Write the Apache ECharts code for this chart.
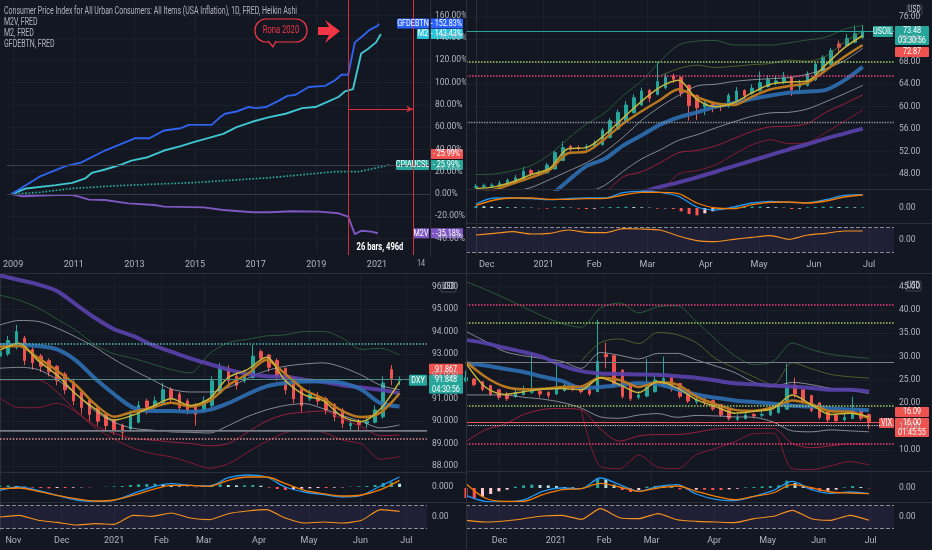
<!DOCTYPE html>
<html><head><meta charset="utf-8">
<script src="https://cdn.jsdelivr.net/npm/echarts@6/dist/echarts.min.js"></script>
<style>html,body{margin:0;padding:0;background:#131722}#c{width:932px;height:550px}</style>
</head><body><div id="c"></div><script>
const FONT = "'Liberation Sans Narrow',Roboto,'Liberation Sans',sans-serif";
const TXT = '#b2b5be';
const GRIDC = '#1b1f2b';
const SEP = '#2a2e39';
const SX = 0.76;

// ---------- Top-left: FRED % change ----------
const tlYearTicks = [2009,2011,2013,2015,2017,2019,2021];
const tlPctTicks = [-40,-20,0,20,40,60,80,100,120,140,160];
const gfdYear = [2008.95,2009.87,2010.73,2011.22,2012.03,2013.01,2013.5,2013.98,2014.53,2014.8,2015.55,2015.83,2015.99,2016.37,2016.75,2017.02,2017.34,2017.78,2018.05,2018.32,2018.75,2019.29,2019.62,2019.83,2020.05,2020.27,2020.54,2020.75,2021.03,2021.06];
const gfdPct = [0,15.5,25,28,39,50,50,57,59,62,62,69,72,74,78,77,78,84,88,89,96,97,102,107,107,136,142,147,151,152.83];
const m2Year = [2008.95,2009.43,2010.41,2010.95,2011.38,2011.6,2012.03,2012.52,2012.9,2013.44,2013.98,2014.53,2015.01,2015.28,2015.93,2016.37,2016.91,2017.45,2017.99,2018.53,2018.97,2019.4,2019.73,2019.94,2020.21,2020.48,2020.7,2020.97,2021.13];
const m2Pct = [0,5,8,10,14,19,22,26,30,33,39,43,47,49,54,60,65,69,72,77,78,83,87,92,94,126,130,136,143.43];
const cpiYear = [2008.95,2009.87,2010.95,2012.47,2015.07,2017.45,2019.62,2020.38,2020.92,2021.4];
const cpiPct = [0,1.5,5,7.5,10.4,14.6,20,20,23,25.99];
const m2vYear = [2008.95,2009.3,2010.4,2010.95,2011.17,2011.5,2012.03,2012.8,2013.66,2013.98,2015.28,2015.93,2016.91,2017.45,2018.21,2019.08,2019.73,2020.05,2020.27,2020.48,2020.81,2021.03];
const m2vPct = [0,-2,-1,-1,-2.4,-5,-5.4,-8.4,-9.9,-11.3,-12,-14.3,-16.4,-16.4,-15.5,-15.8,-17.3,-20.3,-36,-33,-33.7,-35.18];

// ---------- Top-right: USOIL ----------
const oilMonthTicks = [4.05,25.7,44.9,65.2,87.3,107.6,128.5,149.4];
const oilMonthNames = ['Dec','2021','Feb','Mar','Apr','May','Jun','Jul'];
const oilPriceTicks = [48,52,56,60,64,68,72,76];
const oilCandles = [
[45.6,45.8,45.4,46.2],[45.7,45.9,45.5,46.3],[45.8,46.0,45.6,46.4],[45.9,46.3,45.7,46.8],[46.1,46.9,45.9,47.2],
[46.5,47.3,46.3,47.8],[46.9,48.5,46.8,49.3],[48.6,48.1,47.6,48.9],[48.1,48.2,47.7,48.7],[48.2,49.6,48.1,50.0],
[48.9,51.8,48.8,52.2],[50.4,52.7,50.3,53.8],[52.9,52.5,52.0,53.2],[52.7,52.6,52.2,53.1],[52.6,52.9,52.3,53.3],
[52.8,53.5,52.6,54.0],[53.2,55.8,53.1,56.2],[54.5,57.5,54.3,58.0],[56.0,59.0,55.9,59.5],[57.5,60.3,57.3,61.0],
[58.9,61.6,58.8,62.2],[60.3,62.8,60.1,63.4],[62.9,61.5,60.8,63.2],[62.2,64.5,62.0,68.0],[63.4,65.3,63.1,66.0],
[65.5,64.9,64.2,65.9],[65.2,62.5,61.8,65.4],[63.8,60.2,57.5,64.0],[62.0,59.8,57.6,62.2],[60.0,60.6,58.5,61.2],
[60.6,60.2,59.0,61.0],[60.1,60.0,59.2,60.6],[60.1,62.0,59.8,62.4],[61.0,62.8,60.8,63.5],[62.9,62.0,61.3,63.1],
[62.4,63.3,62.1,64.0],[62.9,64.3,62.7,66.3],[63.6,64.8,63.4,65.6],[64.2,64.6,63.8,65.5],[64.4,65.1,64.0,66.2],
[65.2,63.0,61.9,65.4],[63.5,64.0,62.4,64.8],[63.8,65.8,63.6,66.3],[64.8,67.6,64.6,68.0],[66.2,68.8,66.0,69.2],
[67.5,70.0,67.3,70.5],[71.2,70.6,69.8,71.8],[70.9,72.2,70.7,73.0],[71.5,73.0,71.3,74.5],[72.3,73.5,72.1,74.6]];
const oilEmaFast = [45.4,45.7,46.6,47.9,49.0,52.5,52.7,55.0,58.0,61.0,63.5,64.7,61.3,60.0,60.7,62.5,64.0,64.4,64.6,67.5,70.5,72.7];
const oilEmaSlow = [44.8,45.2,46.3,47.4,48.7,51.7,52.0,54.3,57.0,59.2,61.2,63.1,61.7,60.6,60.3,61.8,63.1,63.7,64.3,66.5,68.9,71.0];
const oilSma50 = [null,null,null,null,44.0,46.8,49.4,50.7,53.1,54.9,56.8,58.1,59.0,60.0,60.6,61.4,62.0,62.5,62.7,63.0,64.7,67.1];
const oilSma200 = [null,null,null,null,null,null,null,null,null,44.8,45.7,46.5,47.4,48.4,49.4,50.4,51.4,52.4,53.3,54.3,55.2,56.1];
const oilUpW = [null,null,44.8,45.6,47.0,48.5,50.0,52.0,54.6,57.6,60.0,62.0,63.7,64.0,64.5,64.8,65.0,65.2,65.8,66.8,68.2,70.4];
const oilLoW = [null,null,null,null,null,null,44.6,46.0,48.5,50.7,52.3,54.0,55.0,56.2,57.3,58.3,58.9,59.0,59.6,60.9,62.3,63.8];
const oilRedA = [null,null,null,null,null,null,null,44.5,47.5,48.4,50.0,51.8,52.2,53.0,54.3,55.6,56.4,56.5,57.0,59.0,60.5,62.1];
const oilRedB = [null,null,null,null,null,null,null,null,null,null,44.5,48.0,48.6,49.6,51.5,53.2,54.1,53.4,53.6,55.4,57.4,59.4];
const oilGreen = [47.9,48.0,48.6,49.5,51.5,54.3,56.9,58.9,62.0,64.6,68.1,71.0,71.7,71.8,71.0,71.0,71.0,71.4,71.9,72.4,73.8,74.5];
const oilGreen2 = [null,null,null,null,null,null,null,null,null,null,65.5,66.8,67.4,67.0,67.2,67.5,67.7,68.3,68.1,69.0,71.5,73.5];
const oilMacd = [1.2,3.0,3.0,2.8,2.5,2.8,3.0,3.0,4.6,5.0,4.7,3.5,0.3,-0.6,0.3,1.5,2.0,1.7,1.6,2.5,3.8,4.0];
const oilSignal = [0.8,2.4,3.0,3.0,2.6,2.6,2.8,2.9,3.9,4.7,4.7,4.3,1.5,0.0,-0.2,1.0,1.7,1.8,1.5,2.1,3.3,3.9];
const oilHist = [0.6,0.5,0.4,0.3,0.3,0.2,0.2,0.1,-0.1,-0.2,0.2,0.3,0.1,-0.2,-0.3,-0.2,0.2,0.3,0.3,0.4,0.3,0.2,0.1,-0.2,-0.1,-0.3,-1.0,-1.8,-2.2,-1.6,-1.0,-0.6,-0.3,0.2,0.3,0.4,0.4,0.3,0.2,0.1,-0.3,-0.2,0.2,0.3,0.4,0.4,0.3,0.3,0.2,0.2];
const oilRsi = [1.5,2.0,2.5,1.8,2.0,3.0,2.3,2.2,3.4,3.3,3.0,1.2,-0.2,-0.5,0.2,0.8,1.3,0.2,1.5,2.0,2.7,2.7];

// ---------- Bottom-left: DXY ----------
const dxyMonthTicks = [4.9,22.7,42.0,59.4,75.0,95.3,113.7,132.6,149.5];
const dxyMonthNames = ['Nov','Dec','2021','Feb','Mar','Apr','May','Jun','Jul'];
const dxyPriceTicks = [88,89,90,91,92,93,94,95,96];
const dxyCandles = [
[92.9,93.1,92.7,93.4],[93.0,93.6,92.9,93.8],[93.3,94.0,93.2,94.3],[93.7,92.7,92.5,93.8],[93.2,92.6,92.3,93.3],
[92.9,92.45,92.2,93.0],[92.7,92.2,92.0,92.8],[92.45,91.8,91.6,92.5],[92.1,91.4,91.2,92.2],[91.75,90.9,90.7,91.9],
[91.3,90.6,90.3,91.4],[90.95,90.3,90.0,91.0],[90.6,90.0,89.8,90.7],[90.3,89.8,89.6,90.4],[90.05,89.6,89.4,90.1],
[89.8,89.5,89.2,89.9],[89.65,90.3,89.6,90.5],[89.95,90.7,89.9,90.9],[90.9,90.6,90.3,91.0],[90.7,90.9,90.5,91.1],
[90.8,91.4,90.7,91.7],[91.4,91.0,90.8,91.5],[91.2,90.6,90.4,91.3],[90.9,90.5,90.3,91.0],[90.7,90.3,89.8,90.8],
[90.5,90.9,90.4,91.1],[90.7,91.8,90.6,92.0],[91.25,92.4,91.2,92.6],[92.3,91.8,91.5,92.5],[92.0,91.6,91.4,92.2],
[91.8,92.1,91.7,92.3],[91.95,92.9,91.9,93.4],[93.1,92.8,92.6,93.2],[92.95,92.4,92.2,93.0],[92.7,92.0,91.8,92.8],
[92.35,91.4,91.2,92.4],[91.9,91.0,90.8,92.0],[91.45,90.7,90.4,91.5],[91.0,91.2,90.9,91.4],[91.1,90.9,90.7,91.3],
[91.0,90.5,90.3,91.1],[90.75,90.2,90.0,90.8],[90.5,89.9,89.7,90.6],[89.8,89.9,89.6,90.1],[89.95,89.85,89.6,90.1],
[89.9,90.0,89.7,90.2],[89.95,90.5,89.9,90.7],[90.2,91.7,90.1,92.0],[92.3,91.9,91.6,92.5],[91.8,91.85,91.6,92.0]];
const dxySma200 = [96.5,96.3,96.1,95.8,95.2,94.6,94.1,93.8,93.4,93.1,92.8,92.55,92.3,92.1,92.0,91.98,91.85,91.75,91.6,91.5,91.4,91.24];
const dxySma50 = [93.4,93.4,93.35,93.2,92.7,91.9,91.2,90.6,90.45,90.45,90.42,90.5,90.8,91.2,91.55,91.7,91.77,91.78,91.7,91.4,90.8,90.65];
const dxyEmaFast = [93.17,93.48,92.7,92.05,91.2,90.55,90.05,90.27,90.65,91.0,90.7,91.0,91.95,92.3,92.85,91.8,91.17,90.9,90.2,89.98,90.55,91.76];
const dxyEmaSlow = [93.32,93.35,92.82,92.25,91.6,90.75,90.2,90.42,90.6,90.82,90.65,90.9,91.6,92.1,92.73,92.1,91.4,91.0,90.45,90.18,90.38,91.24];
const dxyUpW = [94.29,94.49,94.45,94.15,93.75,93.3,92.75,92.28,91.85,91.43,91.3,91.3,91.5,91.9,92.25,92.45,92.55,92.6,92.4,92.05,91.6,91.4];
const dxyLoW = [92.36,92.4,92.3,91.85,91.2,90.45,89.95,89.68,89.6,89.52,89.5,89.47,89.8,90.2,90.5,90.7,90.78,90.55,90.25,89.98,89.7,89.83];
const dxyRedA = [91.84,91.84,91.84,91.3,90.45,89.8,89.45,89.23,89.15,89.07,89.0,88.9,89.0,89.5,90.0,90.3,90.4,90.45,90.1,89.75,89.35,89.38];
const dxyRedB = [91.02,90.6,90.6,90.8,90.4,89.7,89.2,88.79,88.55,88.4,88.15,87.9,88.1,88.6,89.09,89.48,89.6,89.5,89.15,88.98,88.3,88.42];
const dxyGreen = [95.62,95.4,95.05,94.55,94.05,93.4,93.0,92.8,92.55,92.3,92.15,93.0,93.5,93.65,93.8,93.85,94.0,94.0,93.7,93.2,93.25,92.95];
const dxyMacd = [-1.0,0.0,-1.0,-2.5,-3.9,-4.3,-4.0,-2.0,0.0,1.0,0.5,0.3,2.8,3.6,3.0,0.0,-1.5,-2.3,-3.0,-2.5,0.3,3.0];
const dxySignal = [-0.5,-0.3,-1.3,-2.5,-3.5,-4.2,-3.9,-2.5,-0.8,0.5,0.5,0.2,2.0,3.0,3.0,1.0,-1.0,-2.0,-2.7,-2.4,-0.8,2.0];
const dxyHist = [0.4,0.5,0.3,0.1,-0.2,-0.3,-0.4,-0.3,-0.3,-0.2,-0.1,-0.1,0.0,0.1,0.2,0.3,0.6,0.8,0.9,1.0,0.8,0.4,0.2,0.1,-0.1,0.4,0.7,0.8,0.6,0.5,0.5,0.6,0.4,-0.2,-0.6,-0.9,-0.8,-0.5,-0.4,-0.3,-0.3,-0.2,-0.1,0.1,0.2,0.3,0.6,1.2,1.4,1.0];
const dxyRsi = [0.0,0.5,-1.0,-1.6,-2.4,-2.0,-2.2,0.5,0.2,1.2,-0.3,-0.8,1.0,1.8,2.2,-0.3,-1.8,-1.5,-1.8,-1.0,2.2,1.7];

// ---------- Bottom-right: VIX ----------
const vixMonthTicks = [12.2,32.8,50.4,67.7,90.5,110.0,128.6,147.6];
const vixMonthNames = ['Dec','2021','Feb','Mar','Apr','May','Jun','Jul'];
const vixPriceTicks = [10,15,20,25,30,35,40,45];
const vixCandles = [
[24.8,25.5,24.5,27.0],[25.2,24.0,23.6,25.4],[24.6,23.0,22.6,24.8],[23.8,22.0,21.6,24.0],[22.9,21.3,20.8,23.1],
[21.9,21.0,20.5,22.4],[21.45,22.3,21.2,23.2],[21.9,22.9,21.7,23.8],[22.4,22.5,22.0,31.0],[22.6,22.0,21.3,23.0],
[22.3,21.7,21.0,22.6],[22.0,23.5,21.8,28.6],[22.75,23.8,22.5,24.5],[23.9,23.0,22.6,24.1],[23.45,22.5,22.1,23.6],
[23.0,22.0,21.6,23.1],[22.5,29.0,22.4,37.9],[30.5,30.0,27.5,33.0],[30.2,24.0,23.4,30.4],[27.1,21.5,21.0,27.3],
[24.3,21.0,20.5,24.5],[21.3,21.8,20.8,22.6],[21.55,23.5,21.3,29.6],[22.5,25.0,22.3,26.0],[23.75,25.3,23.5,30.0],
[25.5,23.0,22.5,25.7],[24.25,21.5,21.0,24.4],[22.9,20.5,20.1,23.0],[20.3,20.8,19.8,21.5],[20.9,20.3,19.6,21.2],
[20.6,18.8,18.4,20.8],[19.7,17.5,17.2,19.8],[18.6,16.8,16.3,18.7],[16.6,16.9,16.2,17.6],[16.75,17.5,16.5,18.1],
[17.6,17.3,16.8,18.0],[17.45,17.6,17.0,18.3],[17.5,18.5,17.3,19.0],[18.0,19.5,17.8,20.2],[18.75,23.5,18.6,28.5],
[23.8,22.0,21.2,25.5],[22.9,20.5,19.9,23.0],[21.7,18.5,18.1,21.8],[20.1,17.0,16.6,20.2],[18.5,16.5,16.0,18.6],
[17.5,16.3,15.8,17.6],[16.5,17.0,16.1,17.8],[16.75,18.3,16.6,21.4],[18.5,16.8,16.3,18.7],[17.6,16.0,14.5,17.8]];
const vixSma200 = [33.6,32.9,31.9,31.0,29.9,28.1,26.9,26.4,26.3,26.2,26.1,25.8,25.5,24.9,24.3,24.1,23.8,23.6,23.3,22.9,22.9,22.5];
const vixSma50 = [28.6,28.1,27.4,26.7,25.7,24.8,23.3,23.5,23.9,24.3,24.1,23.0,21.9,21.2,20.6,20.3,19.9,19.5,19.3,18.9,18.7,18.5];
const vixEmaFast = [28.6,23.5,21.9,22.5,23.0,23.2,22.9,25.5,24.0,22.3,24.7,23.3,20.8,19.3,17.9,18.3,18.9,21.8,19.7,17.6,17.9,17.1];
const vixEmaSlow = [28.9,25.7,23.6,23.0,23.1,23.5,23.6,25.5,25.0,23.5,24.5,24.0,21.5,19.8,18.6,18.4,19.2,20.6,19.8,18.3,18.2,16.8];
const vixUpW = [35.4,33.3,31.1,30.2,29.6,29.0,27.5,30.9,30.3,29.5,30.7,30.7,29.3,28.0,26.6,24.5,23.6,24.5,24.0,23.2,22.8,22.1];
const vixLoW = [21.8,21.8,21.8,21.3,20.9,20.2,19.0,17.1,16.8,17.5,17.8,17.0,17.4,17.3,17.1,17.0,16.0,14.1,13.9,14.3,14.1,13.9];
const vixRedA = [11.8,14.3,15.5,17.6,18.7,18.9,18.6,14.5,11.9,13.0,13.3,13.3,13.8,14.5,14.6,14.6,14.6,11.4,10.5,10.9,11.3,11.3];
const vixRedB = [null,null,null,null,null,null,18.8,6.5,6.0,8.9,6.3,6.0,9.0,10.3,11.8,13.5,13.6,6.0,5.8,6.6,7.5,6.8];
const vixGreen = [46.1,44.4,42.6,40.6,38.7,37.1,36.3,40.4,41.5,39.4,40.7,40.9,37.5,33.7,30.2,28.3,29.0,32.9,31.5,30.5,30.0,29.6];
const vixGreen2 = [null,null,null,null,null,null,29.0,33.0,33.8,32.8,35.2,34.7,33.0,29.6,27.6,25.7,24.0,28.7,27.4,26.2,25.7,25.4];
const vixMacd = [-2.2,-4.0,-4.2,-3.6,-1.0,0.0,-0.2,3.0,1.0,-1.0,0.5,1.0,-1.8,-3.4,-3.8,-2.5,-0.8,2.0,-0.5,-1.6,-1.2,-1.7];
const vixSignal = [1.3,-3.0,-4.0,-4.0,-2.0,-0.5,-0.2,1.4,0.3,-1.0,0.0,0.6,-1.0,-2.5,-3.5,-2.5,-1.5,1.0,0.1,-1.2,-1.5,-1.7];
const vixHist = [-3.0,-3.2,-2.6,-1.8,-1.0,-0.5,0.4,0.8,1.0,0.9,0.8,0.6,0.3,0.2,0.0,0.1,3.0,2.6,1.0,-0.6,-1.2,-0.6,0.4,0.6,0.5,0.2,-0.4,-0.6,-0.5,-0.5,-0.6,-0.6,-0.4,-0.2,0.2,0.3,0.5,0.6,0.8,2.2,1.5,0.5,-0.6,-0.9,-0.8,-0.5,0.2,0.6,0.3,-0.1];
const vixRsi = [-1.0,-1.5,-1.2,-0.5,0.3,0.5,-0.7,2.5,-0.2,-0.5,1.0,-0.8,-1.3,-1.5,-1.7,-0.5,0.2,2.0,-0.5,-1.0,0.5,-1.0];

// ---------- helpers ----------
const CANDLE_STEP = 3, LINE_STEP = 7;
const pairs = (arr, step) => arr.map((v, i) => v == null ? null : [i * step, v]).filter(Boolean);
const zip = (xs, ys) => xs.map((x, i) => [x, ys[i]]);

function ln(g, data, color, width, z, extra) {
  return Object.assign({type:'line', xAxisIndex:g, yAxisIndex:g, data, symbol:'none', smooth:0.3,
    silent:true, z:z||4, lineStyle:{color, width}}, extra||{});
}
function histItems(vals) {
  return vals.map((v, k) => {
    const p = k > 0 ? vals[k-1] : v;
    const c = v >= 0 ? (v >= p ? '#26a69a' : '#b2dfdb') : (v <= p ? '#ff5252' : '#ffcdd2');
    return {value:[k*CANDLE_STEP, v], itemStyle:{color:c}};
  });
}
function hl(v, color, type, width) {
  return {yAxis:v, lineStyle:{color, type:type||'dotted', width:width||1.2}};
}

function panelSeries(g, d) {
  const s = [];
  const L = (arr, c, w, op) => { if (arr) s.push(ln(g, pairs(arr, LINE_STEP), c, w, 4, {lineStyle:{color:c, width:w, opacity:op==null?1:op}})); };
  s.push({type:'candlestick', xAxisIndex:g, yAxisIndex:g, barWidth:3, z:3, silent:true,
    data: d.candles.map((c, k) => [k*CANDLE_STEP, c[0], c[1], c[2], c[3]]),
    itemStyle:{color:'#26a69a', color0:'#ef5350', borderColor:'#26a69a', borderColor0:'#ef5350', borderWidth:1},
    markLine:{symbol:['none','none'], silent:true, label:{show:false}, data:d.hlines}});
  L(d.green, '#2c5f3a', 1, 0.9); L(d.green2, '#5a7030', 1, 0.8);
  L(d.redA, '#a8203d', 1, 0.9); L(d.redB, '#8f1c35', 1, 0.9);
  L(d.upW, '#c2c5cc', 1, 0.65); L(d.loW, '#c2c5cc', 1, 0.65);
  L(d.sma200, '#5b42ad', 4, 0.9); L(d.sma50, '#2f6fb3', 4, 0.9);
  L(d.emaSlow, '#b9781f', 2.5, 1); L(d.emaFast, '#c9b53b', 1.5, 1);
  s.push({type:'bar', xAxisIndex:g+1, yAxisIndex:g+1, barWidth:3, silent:true, data:histItems(d.hist)});
  s.push(ln(g+1, pairs(d.macd, LINE_STEP), '#2196f3', 1.3, 5));
  s.push(ln(g+1, pairs(d.signal, LINE_STEP), '#f57c00', 1.3, 5));
  s.push(ln(g+2, pairs(d.rsi, LINE_STEP), '#f5911e', 1.1, 5, {
    smooth:0.2,
    markArea:{silent:true, itemStyle:{color:'rgba(126,87,194,0.12)'}, data:[[{yAxis:-d.band},{yAxis:d.band}]]},
    markLine:{symbol:['none','none'], silent:true, label:{show:false},
      data:[hl(d.band,'#8a8d96','dashed',1), hl(-d.band,'#8a8d96','dashed',1)]}}));
  return s;
}

// ---------- layout ----------
const grids = [
  {left:0, top:0, width:430, height:255},
  {left:466, top:0, width:428, height:189},
  {left:466, top:190, width:428, height:32},
  {left:466, top:225, width:428, height:30},
  {left:0, top:275, width:427, height:197},
  {left:0, top:472, width:427, height:30},
  {left:0, top:503, width:427, height:28},
  {left:466, top:275, width:428, height:196},
  {left:466, top:471, width:428, height:31},
  {left:466, top:503, width:428, height:28}
];
const xDefs = [
  {min:2008.79, max:2022.75, ticks:tlYearTicks, names:tlYearTicks.map(String), show:true},
  {min:-3.8, max:158.9, ticks:oilMonthTicks, names:oilMonthNames, show:false},
  {min:-3.8, max:158.9, ticks:oilMonthTicks, names:oilMonthNames, show:false},
  {min:-3.8, max:158.9, ticks:oilMonthTicks, names:oilMonthNames, show:true},
  {min:0, max:157.1, ticks:dxyMonthTicks, names:dxyMonthNames, show:false},
  {min:0, max:157.1, ticks:dxyMonthTicks, names:dxyMonthNames, show:false},
  {min:0, max:157.1, ticks:dxyMonthTicks, names:dxyMonthNames, show:true},
  {min:0, max:156.1, ticks:vixMonthTicks, names:vixMonthNames, show:false},
  {min:0, max:156.1, ticks:vixMonthTicks, names:vixMonthNames, show:false},
  {min:0, max:156.1, ticks:vixMonthTicks, names:vixMonthNames, show:true}
];
const yDefs = [
  {min:-54.7, max:174.0, ticks:tlPctTicks, fmt:v=>v.toFixed(2)+'%', split:true},
  {min:45.32, max:79.03, ticks:oilPriceTicks, fmt:v=>v.toFixed(2), split:true},
  {min:-4.2, max:5.4, ticks:[0], fmt:()=> '0.00'},
  {min:-4.5, max:4.5, ticks:[0], fmt:()=> '0.00'},
  {min:87.73, max:96.52, ticks:dxyPriceTicks, fmt:v=>v.toFixed(3), split:true},
  {min:-4.5, max:4.5, ticks:[0], fmt:()=> '0.000'},
  {min:-4.2, max:4.2, ticks:[0], fmt:()=> '0.00'},
  {min:5.5, max:47.5, ticks:vixPriceTicks, fmt:v=>v.toFixed(2), split:true},
  {min:-4.2, max:5.1, ticks:[0], fmt:()=> '0.00'},
  {min:-4.2, max:4.2, ticks:[0], fmt:()=> '0.00'}
];
const xAxis = xDefs.map((d, i) => ({
  type:'value', gridIndex:i, min:d.min, max:d.max,
  axisLine:{show:false}, axisTick:{show:false, customValues:d.ticks},
  axisLabel:{show:d.show, customValues:d.ticks, color:TXT, fontSize:9, fontFamily:FONT, margin:5,
    formatter:v => { const k = d.ticks.findIndex(t => Math.abs(t - v) < 1e-6); return k < 0 ? '' : d.names[k]; }},
  splitLine:{show:true, lineStyle:{color:GRIDC, width:1}}
}));
const yAxis = yDefs.map((d, i) => ({
  type:'value', gridIndex:i, position:'right', min:d.min, max:d.max,
  axisLine:{show:true, lineStyle:{color:SEP}}, axisTick:{show:false, customValues:d.ticks},
  axisLabel:{customValues:d.ticks, color:TXT, fontSize:8.5, fontFamily:FONT, margin:5, formatter:d.fmt},
  splitLine:{show:!!d.split, lineStyle:{color:GRIDC, width:1}}
}));

// ---------- series ----------
const series = [];
series.push(ln(0, zip(m2vYear, m2vPct), '#7e57c2', 1.9, 4, {smooth:false}));
series.push(ln(0, zip(cpiYear, cpiPct), '#26a69a', 1.7, 4, {smooth:false, lineStyle:{color:'#26a69a', width:1.7, type:'dotted'}}));
series.push(ln(0, zip(m2Year, m2Pct), '#3fc6cf', 1.9, 4, {smooth:false}));
series.push(ln(0, zip(gfdYear, gfdPct), '#2f63ee', 1.9, 4, {smooth:false,
  markLine:{symbol:['none','none'], silent:true, label:{show:false}, data:[
    {yAxis:0, lineStyle:{color:'#363a45', type:'solid', width:1}},
    {yAxis:25.99, lineStyle:{color:'#3d414c', type:'solid', width:1}},
    {xAxis:2020.055, lineStyle:{color:'#d0303d', type:'solid', width:1}},
    {xAxis:2022.2, lineStyle:{color:'#d0303d', type:'solid', width:1}},
    [{coord:[2020.055, 76.2], symbol:'none', lineStyle:{color:'#d0303d', type:'solid', width:1}},
     {coord:[2022.2, 76.2], symbol:'arrow', symbolSize:[5,7], lineStyle:{color:'#d0303d', type:'solid', width:1}}]
  ]}}));

series.push(...panelSeries(1, {candles:oilCandles, emaFast:oilEmaFast, emaSlow:oilEmaSlow, sma50:oilSma50, sma200:oilSma200,
  upW:oilUpW, loW:oilLoW, redA:oilRedA, redB:oilRedB, green:oilGreen, green2:oilGreen2,
  macd:oilMacd, signal:oilSignal, hist:oilHist, rsi:oilRsi, band:3.7,
  hlines:[hl(73.48,'#26a69a','solid',1), hl(68.0,'#9ccc65','dotted',1.5), hl(65.6,'#ec407a','dotted',1.5), hl(57.3,'#9598a1','dotted',1.3)]}));
series.push(...panelSeries(4, {candles:dxyCandles, emaFast:dxyEmaFast, emaSlow:dxyEmaSlow, sma50:dxySma50, sma200:dxySma200,
  upW:dxyUpW, loW:dxyLoW, redA:dxyRedA, redB:dxyRedB, green:dxyGreen,
  macd:dxyMacd, signal:dxySignal, hist:dxyHist, rsi:dxyRsi, band:3.5,
  hlines:[hl(93.47,'#4db6ac','dotted',1.6), hl(91.85,'#4f8f86','solid',1), hl(89.6,'#787b86','solid',1), hl(89.53,'#5d606b','solid',1), hl(89.23,'#d88a8a','dotted',1.6)]}));
series.push(...panelSeries(7, {candles:vixCandles, emaFast:vixEmaFast, emaSlow:vixEmaSlow, sma50:vixSma50, sma200:vixSma200,
  upW:vixUpW, loW:vixLoW, redA:vixRedA, redB:vixRedB, green:vixGreen, green2:vixGreen2,
  macd:vixMacd, signal:vixSignal, hist:vixHist, rsi:vixRsi, band:3.5,
  hlines:[hl(41.1,'#ec407a','dotted',1.5), hl(37.3,'#9ccc65','dotted',1.5), hl(28.8,'#787b86','solid',1), hl(19.5,'#9ccc65','dotted',1.5), hl(16.05,'#ef5350','solid',1), hl(15.2,'#d1d4dc','dotted',1.2), hl(11.3,'#ec407a','dotted',1.5)]}));

const chart = echarts.init(document.getElementById('c'), null, {renderer:'canvas'});
chart.setOption({backgroundColor:'#131722', animation:false, grid:grids, xAxis, yAxis, series});

// ---------- annotations / labels ----------
function tEl(x, y, text, o) {
  o = o || {};
  return {type:'text', silent:true, z:101, x, y, scaleX:o.sx||SX,
    style:{x:0, y:0, text, fill:o.color||TXT, fontSize:o.size||9.5, fontFamily:FONT,
      fontWeight:o.bold?'bold':'normal', align:o.align||'left', verticalAlign:'middle', lineHeight:o.lh||10}};
}
function box(x, y, w, h, bg, text, o) {
  o = o || {};
  return {type:'group', silent:true, z:100, children:[
    {type:'rect', shape:{x, y, width:w, height:h, r:o.r==null?1:o.r}, style:{fill:bg, stroke:o.stroke||null, lineWidth:o.stroke?1:0}},
    tEl(x + w/2, y + h/2, text, {color:o.color||'#ffffff', size:o.size||9.5, align:'center', bold:o.bold, lh:o.lh})
  ]};
}
function line(x1, y1, x2, y2, c) {
  return {type:'line', silent:true, z:90, shape:{x1, y1, x2, y2}, style:{stroke:c||SEP, lineWidth:1}};
}
const yp = (ai, v) => chart.convertToPixel({yAxisIndex:ai}, v);
const G = [];
G.push(line(466.5, 0, 466.5, 550), line(0, 273.5, 932, 273.5));
G.push(line(466, 189.5, 932, 189.5), line(466, 223.5, 932, 223.5));
G.push(line(0, 472.5, 466, 472.5), line(0, 502.5, 466, 502.5));
G.push(line(466, 471.5, 932, 471.5), line(466, 502.5, 932, 502.5));
// top-left legend
G.push(tEl(4, 11, 'Consumer Price Index for All Urban Consumers: All Items (USA Inflation), 1D, FRED, Heikin Ashi', {sx:0.7, size:10}));
G.push(tEl(4, 22, 'M2V, FRED', {sx:0.7, size:10}), tEl(4, 33, 'M2, FRED', {sx:0.7, size:10}), tEl(4, 44, 'GFDEBTN, FRED', {sx:0.7, size:10}));
G.push(tEl(421, 264, '14', {align:'center', size:9.5}));
// Rona callout + arrow
G.push({type:'rect', silent:true, z:100, shape:{x:255, y:19, width:52, height:23, r:11}, style:{fill:'#131722', stroke:'#f23645', lineWidth:1.2}});
G.push({type:'polyline', silent:true, z:101, shape:{points:[[268,41],[273,47],[276,41]]}, style:{stroke:'#f23645', lineWidth:1.2, fill:'#131722'}});
G.push(tEl(281, 30.5, 'Rona 2020', {color:'#f23645', align:'center', size:10}));
G.push({type:'polygon', silent:true, z:100, shape:{points:[[318,27],[329,27],[325,20],[340,31],[325,43],[329,35],[318,35]]}, style:{fill:'#f23645'}});
G.push(tEl(380, 247, '26 bars, 496d', {color:'#ffffff', align:'center', bold:true, size:10}));
// top-left price labels
let y1 = yp(0, 152.83), y2 = yp(0, 143.43), y3 = yp(0, 25.99), y4 = yp(0, -35.18);
G.push(box(397, y1-5, 32, 10, '#2962ff', 'GFDEBTN'), box(430, y1-5, 33, 10, '#2962ff', '- 152.83%'));
G.push(box(417, y2-5, 12, 10, '#26c6da', 'M2'), box(430, y2-5, 33, 10, '#26c6da', '- 143.43%'));
G.push(box(430, y3-16, 33, 10, '#ef5350', '- 25.99%'));
G.push(box(396, y3-5, 33, 10, '#26a69a', 'CPIAUCSL'), box(430, y3-5, 33, 10, '#26a69a', '- 25.99%'));
G.push(box(413, y4-5, 16, 10, '#7e57c2', 'M2V'), box(430, y4-5, 33, 10, '#7e57c2', '- -35.18%'));
// USOIL labels
let yo = yp(1, 73.48);
G.push(box(873, yo-5, 20, 11, '#26a69a', 'USOIL'), box(895, yo-5, 34, 19, '#26a69a', '73.48\n03:30:56'));
G.push(box(895, yo+16, 34, 10, '#ef5350', '72.87'));
G.push(box(907, 5, 15, 10, '#131722', 'USD', {stroke:'#434651', color:'#d1d4dc', size:8.5}));
// DXY labels
let yd = yp(4, 91.848);
G.push(box(429, yd-16, 34, 11, '#ef5350', '91.867'));
G.push(box(409, yd-5, 18, 11, '#26a69a', 'DXY'), box(429, yd-5, 34, 19, '#26a69a', '91.848\n04:30:56'));
G.push(box(441, 282, 15, 10, '#131722', 'USD', {stroke:'#434651', color:'#d1d4dc', size:8.5}));
// VIX labels
let yx = yp(7, 16.0);
G.push(box(895, yx-15, 34, 10, '#ef5350', '16.09'));
G.push(box(879, yx-4, 15, 10, '#ef5350', 'VIX'), box(895, yx-4, 34, 19, '#ef5350', '16.00\n01:45:55'));
G.push(box(906, 281, 15, 10, '#131722', 'USD', {stroke:'#434651', color:'#d1d4dc', size:8.5}));
chart.setOption({graphic:G});
</script></body></html>
